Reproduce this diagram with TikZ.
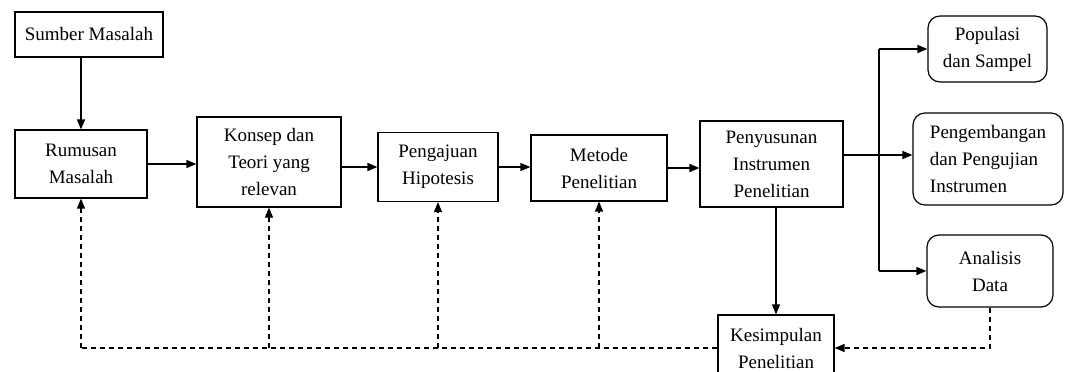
\documentclass[tikz,border=0pt]{standalone}
\usepackage{fontspec}
\setmainfont{Liberation Serif}
\usetikzlibrary{arrows.meta,calc}
\begin{document}
\begin{tikzpicture}[x=1pt,y=-1pt,
 box/.style={draw, line width=1.2pt, align=center, inner sep=2pt, font=\fontsize{19}{27}\selectfont},
 rbox/.style={box, rounded corners=12pt},
 arr/.style={line width=1.5pt, -{Triangle[length=10pt,width=8pt]}},
 ln/.style={line width=1.5pt},
 darr/.style={line width=1.3pt, dash pattern=on 5pt off 4pt, -{Triangle[length=10pt,width=8pt]}},
 dln/.style={line width=1.3pt, dash pattern=on 5pt off 4pt}]
\clip (0,0) rectangle (1066,372);
\node[box, minimum width=148pt, minimum height=45pt] (sumber) at (89,34.5) {Sumber Masalah};
\node[box, minimum width=132pt, minimum height=68pt] (rumusan) at (81,164) {Rumusan\\Masalah};
\node[box, minimum width=144pt, minimum height=90pt] (konsep) at (269,162) {Konsep dan\\Teori yang\\relevan};
\node[box, minimum width=120pt, minimum height=69pt] (pengajuan) at (438,167) {Pengajuan\\Hipotesis};
\node[box, minimum width=136pt, minimum height=66pt] (metode) at (599,168) {Metode\\Penelitian};
\node[box, minimum width=143pt, minimum height=86pt] (penyusunan) at (771.5,164) {Penyusunan\\Instrumen\\Penelitian};
\node[box, minimum width=116pt, minimum height=66pt] (kesimpulan) at (776,348) {Kesimpulan\\Penelitian};
\node[rbox, minimum width=119pt, minimum height=66pt] (populasi) at (987.5,49) {Populasi\\dan Sampel};
\node[rbox, align=left, minimum width=150pt, minimum height=92pt] (pengembangan) at (988,159) {Pengembangan\\dan Pengujian\\Instrumen};
\node[rbox, minimum width=126pt, minimum height=72pt] (analisis) at (990,271) {Analisis\\Data};
\coordinate (br) at (879,155);
% solid connectors
\draw[arr] (rumusan.north |- sumber.south) -- (rumusan.north);
\draw[arr] (rumusan.east) -- (rumusan.east -| konsep.west);
\draw[arr] (konsep.east |- pengajuan.west) -- (pengajuan.west);
\draw[arr] (pengajuan.east) -- (pengajuan.east -| metode.west);
\draw[arr] (metode.east) -- (metode.east -| penyusunan.west);
\draw[arr] (br -| penyusunan.east) -- (br -| pengembangan.west);
\draw[ln] (br |- populasi.west) -- (br |- analisis.west);
\draw[arr] (br |- populasi.west) -- (populasi.west);
\draw[arr] (br |- analisis.west) -- (analisis.west);
\draw[arr] (kesimpulan.north |- penyusunan.south) -- (kesimpulan.north);
% dashed feedback
\draw[dln] (kesimpulan.west) -- (kesimpulan.west -| rumusan.south);
\draw[darr] (kesimpulan.west -| rumusan.south) -- (rumusan.south);
\draw[darr] (kesimpulan.west -| konsep.south) -- (konsep.south);
\draw[darr] (kesimpulan.west -| pengajuan.south) -- (pengajuan.south);
\draw[darr] (kesimpulan.west -| metode.south) -- (metode.south);
\draw[darr] (analisis.south) -- (analisis.south |- kesimpulan.east) -- (kesimpulan.east);
\end{tikzpicture}
\end{document}
